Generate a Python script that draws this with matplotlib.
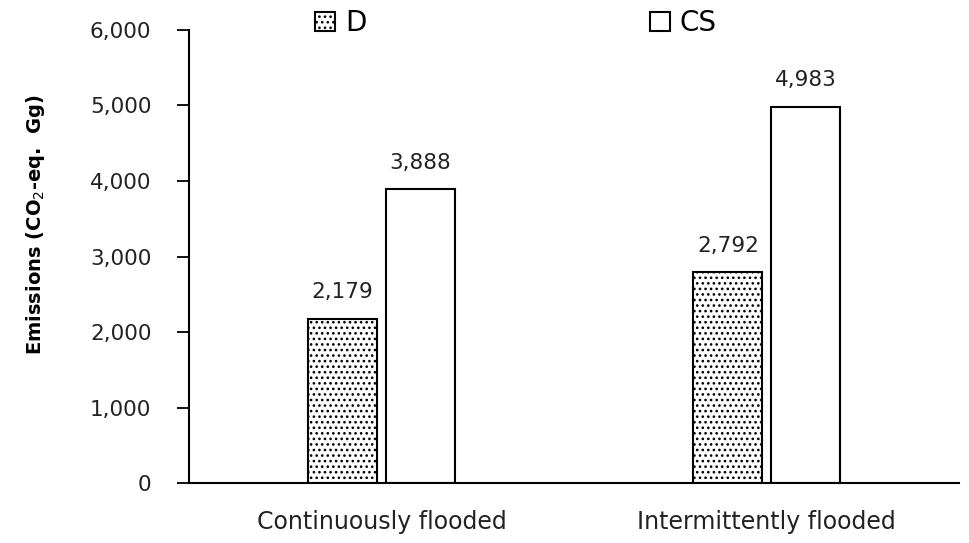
import matplotlib

matplotlib.use("Agg")
import matplotlib.pyplot as plt
import numpy as np
from matplotlib.ticker import FuncFormatter

categories = ["Continuously flooded", "Intermittently flooded"]
series_names = ["D", "CS"]
d_values = [2179, 2792]
cs_values = [3888, 4983]

plt.rcParams["font.family"] = "DejaVu Sans"
plt.rcParams["hatch.linewidth"] = 1.1

fig = plt.figure(figsize=(9.69, 5.43), dpi=100)
ax = fig.add_axes([0.195, 0.11, 0.795, 0.835])

x = np.arange(len(categories))
w = 0.18
gap = 0.022
b1 = ax.bar(x - w / 2 - gap / 2, d_values, w, facecolor="white", edgecolor="black",
            linewidth=1.5, hatch="...", label=series_names[0])
b2 = ax.bar(x + w / 2 + gap / 2, cs_values, w, facecolor="white", edgecolor="black",
            linewidth=1.5, label=series_names[1])

for bars in (b1, b2):
    for rect in bars:
        h = rect.get_height()
        ax.annotate(f"{h:,.0f}", (rect.get_x() + rect.get_width() / 2, h),
                    xytext=(0, 12), textcoords="offset points",
                    ha="center", va="bottom", fontsize=15.5, color="#222222")

ax.set_xlim(-0.5, 1.5)
ax.set_ylim(0, 6000)
ax.set_yticks(np.arange(0, 6001, 1000))
ax.yaxis.set_major_formatter(FuncFormatter(lambda v, p: f"{v:,.0f}"))
ax.set_xticks(x)
ax.set_xticklabels(categories, fontsize=17, color="#222222")
ax.tick_params(axis="x", length=0, pad=19)
ax.tick_params(axis="y", direction="out", length=9, width=1.3, labelsize=15.5,
               labelcolor="#222222", pad=18)
for s in ("top", "right"):
    ax.spines[s].set_visible(False)
for s in ("left", "bottom"):
    ax.spines[s].set_linewidth(1.5)

fig.text(36 / 969, 0.587, "Emissions (CO$_2$-eq.  Gg)", fontsize=14, fontweight="bold",
         rotation=90, ha="center", va="center")

fig.legend(handles=[b1, b2], labels=series_names, loc="upper left",
           bbox_to_anchor=(315 / 969, 1 - 9 / 543), ncol=2, frameon=False, fontsize=20,
           handlelength=0.72, handleheight=0.65, handletextpad=0.36,
           columnspacing=10.2, borderpad=0, borderaxespad=0)

fig.savefig("out.png", dpi=100)
